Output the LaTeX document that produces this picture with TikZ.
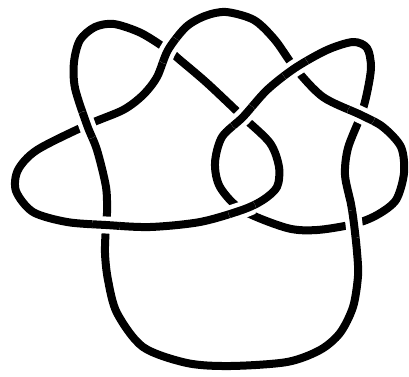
\documentclass[tikz,border=0pt]{standalone}
\tikzset{
  knotline/.style={line width=8pt, line join=round, black},
  gapline/.style={line width=17pt, white},
}
\newcommand\overpass[6]{%
  \begin{scope}
    \clip (#1) circle (14pt);
    \draw[gapline] plot[smooth] coordinates {(#2)(#3)(#4)(#5)(#6)};
    \draw[knotline] plot[smooth] coordinates {(#2)(#3)(#4)(#5)(#6)};
  \end{scope}}
\begin{document}
\begin{tikzpicture}[x=1pt,y=-1pt]
\useasboundingbox (0,0) rectangle (409,376);
\coordinate (p1) at (107,213);
\coordinate (p2) at (106,187);
\coordinate (p3) at (97,150);
\coordinate (p4) at (87,125);
\coordinate (p5) at (75,88);
\coordinate (p6) at (74,62);
\coordinate (p7) at (80,40);
\coordinate (p8) at (95,27);
\coordinate (p9) at (114,24);
\coordinate (p10) at (141,33);
\coordinate (p11) at (168,50);
\coordinate (p12) at (180,60);
\coordinate (p13) at (207,83);
\coordinate (p14) at (243,117);
\coordinate (p15) at (270,143);
\coordinate (p16) at (279,167);
\coordinate (p17) at (277,187);
\coordinate (p18) at (263,200);
\coordinate (p19) at (242,210);
\coordinate (p20) at (200,222);
\coordinate (p21) at (150,227);
\coordinate (p22) at (106,225);
\coordinate (p23) at (67,222);
\coordinate (p24) at (33,212);
\coordinate (p25) at (16,191);
\coordinate (p26) at (18,170);
\coordinate (p27) at (37,150);
\coordinate (p28) at (87,125);
\coordinate (p29) at (123,110);
\coordinate (p30) at (143,95);
\coordinate (p31) at (157,77);
\coordinate (p32) at (168,50);
\coordinate (p33) at (186,27);
\coordinate (p34) at (205,16);
\coordinate (p35) at (226,12);
\coordinate (p36) at (254,20);
\coordinate (p37) at (275,40);
\coordinate (p38) at (295,68);
\coordinate (p39) at (323,97);
\coordinate (p40) at (361,115);
\coordinate (p41) at (383,127);
\coordinate (p42) at (401,147);
\coordinate (p43) at (404,173);
\coordinate (p44) at (396,200);
\coordinate (p45) at (377,215);
\coordinate (p46) at (354,224);
\coordinate (p47) at (317,230);
\coordinate (p48) at (287,228);
\coordinate (p49) at (242,210);
\coordinate (p50) at (220,187);
\coordinate (p51) at (215,163);
\coordinate (p52) at (222,137);
\coordinate (p53) at (243,117);
\coordinate (p54) at (267,90);
\coordinate (p55) at (295,68);
\coordinate (p56) at (327,50);
\coordinate (p57) at (353,42);
\coordinate (p58) at (367,48);
\coordinate (p59) at (371,67);
\coordinate (p60) at (367,93);
\coordinate (p61) at (361,115);
\coordinate (p62) at (348,148);
\coordinate (p63) at (345,175);
\coordinate (p64) at (351,204);
\coordinate (p65) at (354,224);
\coordinate (p66) at (357,252);
\coordinate (p67) at (358,276);
\coordinate (p68) at (353,307);
\coordinate (p69) at (340,333);
\coordinate (p70) at (320,350);
\coordinate (p71) at (287,362);
\coordinate (p72) at (230,366);
\coordinate (p73) at (187,363);
\coordinate (p74) at (143,347);
\coordinate (p75) at (117,313);
\coordinate (p76) at (108,280);
\coordinate (p77) at (105,253);
\coordinate (p78) at (106,225);
\draw[knotline] plot[smooth cycle] coordinates {
 (p1)(p2)(p3)(p4)(p5)(p6)(p7)(p8)(p9)(p10)(p11)(p12)(p13)(p14)(p15)(p16)(p17)(p18)(p19)(p20)
 (p21)(p22)(p23)(p24)(p25)(p26)(p27)(p28)(p29)(p30)(p31)(p32)(p33)(p34)(p35)(p36)(p37)(p38)(p39)(p40)
 (p41)(p42)(p43)(p44)(p45)(p46)(p47)(p48)(p49)(p50)(p51)(p52)(p53)(p54)(p55)(p56)(p57)(p58)(p59)(p60)
 (p61)(p62)(p63)(p64)(p65)(p66)(p67)(p68)(p69)(p70)(p71)(p72)(p73)(p74)(p75)(p76)(p77)(p78)};
% over-crossings
\overpass{p4}{p2}{p3}{p4}{p5}{p6}
\overpass{p32}{p30}{p31}{p32}{p33}{p34}
\overpass{p53}{p51}{p52}{p53}{p54}{p55}
\overpass{p19}{p17}{p18}{p19}{p20}{p21}
\overpass{p22}{p20}{p21}{p22}{p23}{p24}
\overpass{p55}{p53}{p54}{p55}{p56}{p57}
\overpass{p40}{p38}{p39}{p40}{p41}{p42}
\overpass{p65}{p63}{p64}{p65}{p66}{p67}
\end{tikzpicture}
\end{document}
